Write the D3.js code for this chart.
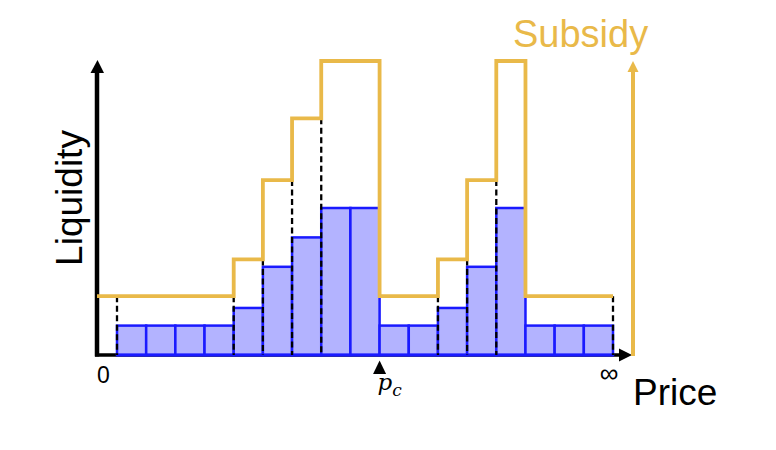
<!DOCTYPE html>
<html>
<head>
<meta charset="utf-8">
<script src="https://cdn.jsdelivr.net/npm/d3@7"></script>
<style>
  body { margin: 0; background: #fff; }
  text { font-family: "Liberation Sans", Arial, sans-serif; }
</style>
</head>
<body>
<div id="chart"></div>
<script>
// liquidity per price bin (low bins = 1 unit)
const liquidity = [1, 1, 1, 1, 1.6, 3, 4, 5, 5, 1, 1, 1.6, 3, 5, 1, 1, 1];
// subsidy per price bin
const subsidy = [2, 2, 2, 2, 3.25, 5.95, 8.05, 10, 10, 2, 2, 3.25, 5.95, 10, 2, 2, 2];
// bin where the current price sits (right edge of it)
const pcBin = 9;
const axisLabels = {x: "Price", y: "Liquidity", z: "Subsidy", lo: "0", hi: "\u221E"};

const W = 776, H = 450;
const orange = "#E9B949", blue = "#1a1aff", fillBlue = "#b3b3ff";
const x0 = 97, y0 = 355;   // axis origin

const svg = d3.select("#chart")
  .append("svg")
    .attr("width", W)
    .attr("height", H);

const x = d3.scaleLinear()
  .domain([0, liquidity.length])
  .range([117, 613]);

const y = d3.scaleLinear()
  .domain([0, 10])
  .range([y0, 61]);

// axes
svg.append("line")
  .attr("x1", x0).attr("y1", y0 + 1.5)
  .attr("x2", x0).attr("y2", 72)
  .attr("stroke", "black").attr("stroke-width", 4.5);
svg.append("path")
  .attr("d", `M${x0 - 6.5},73 L${x0 + 0.5},60 L${x0 + 7},73 Z`)
  .attr("fill", "black");

svg.append("line")
  .attr("x1", x0 - 2).attr("y1", y0)
  .attr("x2", 620).attr("y2", y0)
  .attr("stroke", "black").attr("stroke-width", 3.5);
svg.append("path")
  .attr("d", `M619,${y0 - 6.5} L632,${y0} L619,${y0 + 6.5} Z`)
  .attr("fill", "black");

// bars
svg.append("g")
  .selectAll("rect")
  .data(liquidity)
  .join("rect")
    .attr("x", (d, i) => x(i))
    .attr("y", d => y(d))
    .attr("width", x(1) - x(0))
    .attr("height", d => y0 - y(d))
    .attr("fill", fillBlue)
    .attr("stroke", blue)
    .attr("stroke-width", 2.5);

svg.append("line")
  .attr("x1", x(0)).attr("y1", y0)
  .attr("x2", x(liquidity.length)).attr("y2", y0)
  .attr("stroke", blue).attr("stroke-width", 3);

// dashed guides where subsidy steps up, plus both ends
const steps = [];
subsidy.forEach((s, i) => {
  const prev = i === 0 ? s : subsidy[i - 1];
  if (i === 0 || s > prev) steps.push({i: i, v: prev});
});
steps.push({i: subsidy.length, v: subsidy[subsidy.length - 1]});

svg.append("g")
  .selectAll("line")
  .data(steps)
  .join("line")
    .attr("x1", d => x(d.i)).attr("x2", d => x(d.i))
    .attr("y1", d => y(d.v)).attr("y2", y0)
    .attr("stroke", "black")
    .attr("stroke-width", 2.3)
    .attr("stroke-dasharray", "6,3.5");

// subsidy step line
const pts = [{px: x0, v: subsidy[0]}]
  .concat(subsidy.map((s, i) => ({px: x(i), v: s})))
  .concat([{px: x(subsidy.length), v: subsidy[subsidy.length - 1]}]);

svg.append("path")
  .datum(pts)
  .attr("d", d3.line().x(d => d.px).y(d => y(d.v)).curve(d3.curveStepAfter))
  .attr("fill", "none")
  .attr("stroke", orange)
  .attr("stroke-width", 3.8);

// subsidy axis
svg.append("line")
  .attr("x1", 633).attr("y1", y0 + 1)
  .attr("x2", 633).attr("y2", 70)
  .attr("stroke", orange).attr("stroke-width", 4);
svg.append("path")
  .attr("d", `M627.5,72 L633,61 L638.5,72 Z`)
  .attr("fill", orange);

// current price marker
const pcX = x(pcBin);
svg.append("path")
  .attr("d", `M${pcX - 6.5},374 L${pcX},360.5 L${pcX + 6.5},374 Z`)
  .attr("fill", "black");
const pc = svg.append("text")
  .attr("x", pcX - 2).attr("y", 390)
  .style("font-family", "'DejaVu Serif', 'Liberation Serif', serif")
  .style("font-style", "italic")
  .style("font-size", "23px");
pc.append("tspan").text("p");
pc.append("tspan").attr("dy", 6).style("font-size", "17px").text("c");

// labels
svg.append("text")
  .attr("transform", "translate(82,198) rotate(-90)")
  .attr("text-anchor", "middle")
  .style("font-size", "37px")
  .text(axisLabels.y);

svg.append("text")
  .attr("x", 633).attr("y", 405)
  .style("font-size", "37px")
  .text(axisLabels.x);

svg.append("text")
  .attr("x", 513).attr("y", 47)
  .style("font-size", "38px")
  .attr("fill", orange)
  .text(axisLabels.z);

svg.append("text")
  .attr("x", 97).attr("y", 383)
  .style("font-size", "23px")
  .text(axisLabels.lo);

svg.append("text")
  .attr("x", 609).attr("y", 382)
  .attr("text-anchor", "middle")
  .style("font-size", "26px")
  .text(axisLabels.hi);
</script>
</body>
</html>
